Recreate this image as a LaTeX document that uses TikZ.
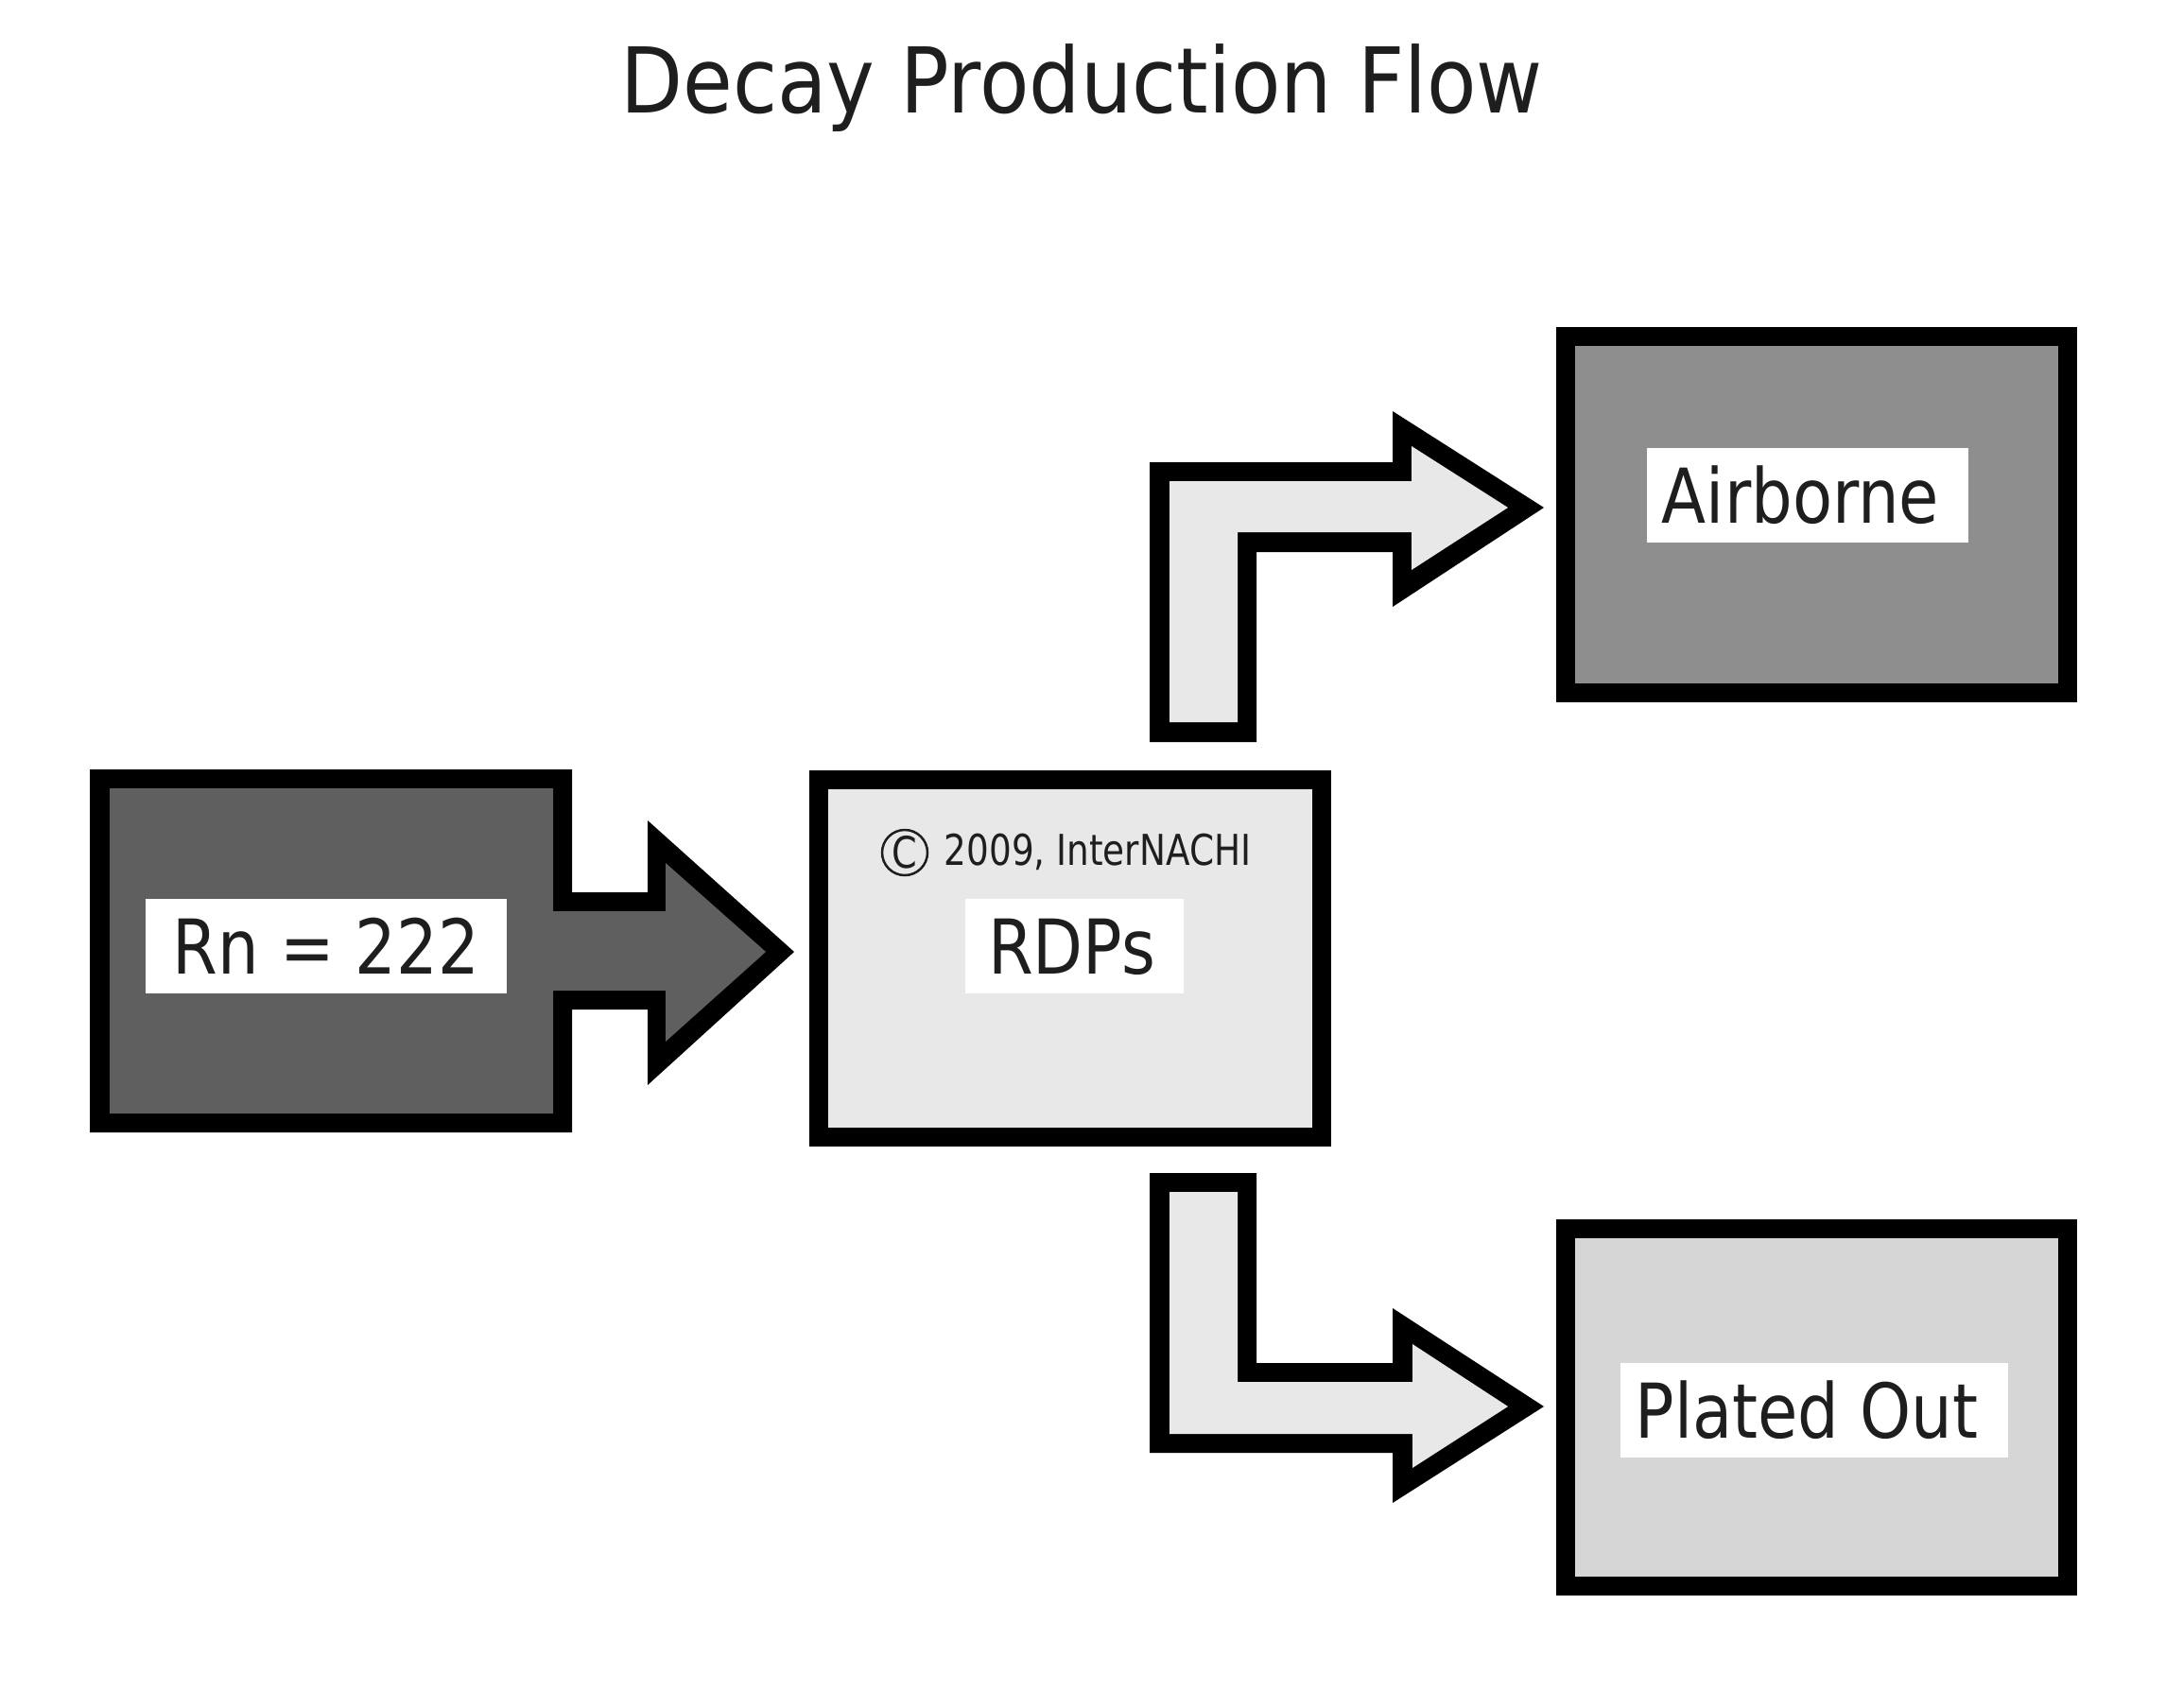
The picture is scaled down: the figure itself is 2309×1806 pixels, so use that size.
\documentclass[tikz,border=0pt]{standalone}
\usepackage{fontspec}
\setmainfont{DejaVu Sans}
\newfontfamily\labfont{DejaVu Sans}[FakeStretch=0.86]
\newfontfamily\titfont{DejaVu Sans}[FakeStretch=0.893]
\newfontfamily\cpyfont{DejaVu Sans}[FakeStretch=0.83]
\definecolor{rnfill}{HTML}{5F5F5F}
\definecolor{rdpfill}{HTML}{E8E8E8}
\definecolor{airfill}{HTML}{8E8E8E}
\definecolor{platefill}{HTML}{D6D6D6}
\definecolor{txt}{HTML}{1E1E1E}
\begin{document}
\begin{tikzpicture}[x=1pt,y=-1pt,
  box/.style={draw=black, line width=20pt, inner sep=0pt, rectangle},
  lab/.style={fill=white, inner sep=0pt, text=txt, font=\labfont\fontsize{80}{96}\selectfont,
              text height=58pt, text depth=0pt, minimum height=100pt}]
\useasboundingbox[fill=white] (0,0) rectangle (2309,1806);

% title
\node[anchor=base, text=txt, font=\titfont\fontsize{96}{110}\selectfont] (title) at (1144,120) {Decay Production Flow};

% Rn box with arrow (one shape)
\fill[black] (95,814) -- (605,814) -- (605,944) -- (685,944) -- (685,868) -- (840,1007)
  -- (685,1148) -- (685,1068) -- (605,1068) -- (605,1198) -- (95,1198) -- cycle;
\fill[rnfill] (116,834) -- (585,834) -- (585,964) -- (704,964) -- (704,913) -- (810,1007)
  -- (704,1102) -- (704,1048) -- (585,1048) -- (585,1178) -- (116,1178) -- cycle;
\node[lab, minimum width=382pt] (rnlab) at (345,1001) {Rn = 222};

% RDPs box
\node[box, fill=rdpfill, minimum width=531.5pt, minimum height=377.5pt] (rdp) at (1131.8,1014.2) {};
\node[circle, draw=txt, line width=2.5pt, minimum size=48pt, inner sep=0pt, text=txt,
      font=\cpyfont\fontsize{46}{46}\selectfont] (cmark) at (957,902) {C};
\node[anchor=base, text=txt, font=\cpyfont\fontsize{45}{54}\selectfont] (copy) at (1161,915) {2009, InterNACHI};
\node[lab, minimum width=231pt] (rdplab) at (1136.5,1001) {RDPs\hspace*{6pt}};

% upper bent arrow
\fill[black] (1216,785) -- (1216,489) -- (1473,489) -- (1473,435) -- (1633,537) -- (1473,642)
  -- (1473,584) -- (1329,584) -- (1329,785) -- cycle;
\fill[rdpfill] (1237,764) -- (1237,509) -- (1493,509) -- (1493,472) -- (1595,537) -- (1493,603)
  -- (1493,563) -- (1309,563) -- (1309,764) -- cycle;

% lower bent arrow
\fill[black] (1216,1241) -- (1329,1241) -- (1329,1442) -- (1473,1442) -- (1473,1384) -- (1633,1488)
  -- (1473,1590) -- (1473,1537) -- (1216,1537) -- cycle;
\fill[rdpfill] (1237,1261) -- (1309,1261) -- (1309,1462) -- (1494,1462) -- (1494,1422) -- (1595,1488)
  -- (1494,1553) -- (1494,1517) -- (1237,1517) -- cycle;

% Airborne box
\node[box, fill=airfill, minimum width=531.3pt, minimum height=377pt] (air) at (1921.7,544.5) {};
\node[lab, minimum width=340pt] (airlab) at (1911.5,524) {Airborne\hspace*{14pt}};

% Plated Out box
\node[box, fill=platefill, minimum width=531.3pt, minimum height=377.7pt] (plate) at (1921.7,1488.9) {};
\node[lab, minimum width=410pt] (platelab) at (1919,1492.3) {Plated Out\hspace*{16pt}};
\end{tikzpicture}
\end{document}
